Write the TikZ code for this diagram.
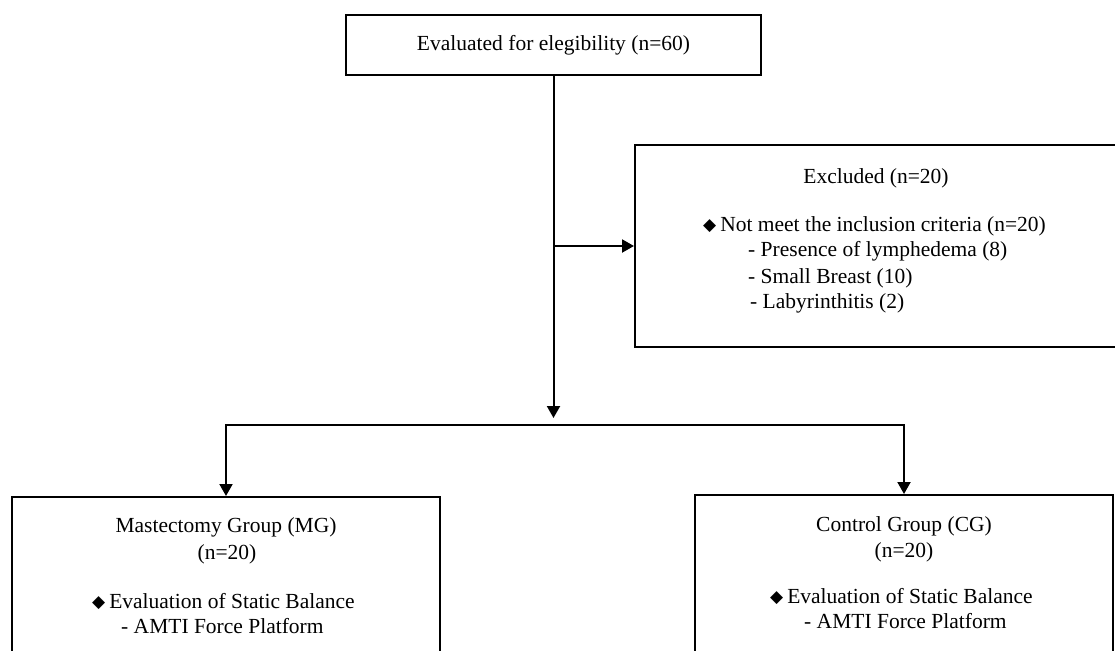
\documentclass[tikz,border=0pt]{standalone}
\usepackage{fontspec}
\setmainfont{Liberation Serif}
\newfontfamily\dejavu{DejaVu Sans}
\usetikzlibrary{arrows.meta}
\newcommand{\bul}{\raisebox{0.5pt}{\dejavu\fontsize{17}{17}\selectfont ◆}\hspace{4pt}}
\begin{document}
\begin{tikzpicture}[x=1pt,y=-1pt,
  box/.style={draw, line width=2pt, inner sep=0pt},
  txt/.style={font=\fontsize{21.5}{26}\selectfont, inner sep=0pt},
  arr/.style={line width=2pt, -{Triangle[length=12pt,width=13pt]}}]
\useasboundingbox (0,0) rectangle (1115,650);
\clip (0,0) rectangle (1115,650);
% boxes
\node[box, minimum width=415pt, minimum height=60pt] (eval) at (553.5,45) {};
\node[box, minimum width=482pt, minimum height=202pt] (excl) at (876,246) {};
\node[box, minimum width=428pt, minimum height=300pt, anchor=north] (mg) at (226,496) {};
\node[box, minimum width=418pt, minimum height=300pt, anchor=north] (cg) at (904,494) {};
% top text
\node[txt, anchor=mid] (evT) at (553.5,48) {Evaluated for elegibility (n=60)};
% excluded texts
\node[txt, anchor=mid] (exT) at (876,181) {Excluded (n=20)};
\node[txt, anchor=mid west] (exB) at (703,229) {\bul Not meet the inclusion criteria (n=20)};
\node[txt, anchor=mid west] (ex1) at (748,254) {- Presence of lymphedema (8)};
\node[txt, anchor=mid west] (ex2) at (748,281) {- Small Breast (10)};
\node[txt, anchor=mid west] (ex3) at (750,306) {- Labyrinthitis (2)};
% MG texts
\node[txt, anchor=mid] (mgT) at (226,530) {Mastectomy Group (MG)};
\node[txt, anchor=mid] (mgN) at (227,557) {(n=20)};
\node[txt, anchor=mid west] (mgB) at (92,606) {\bul Evaluation of Static Balance};
\node[txt, anchor=mid west] (mgA) at (121,631) {- AMTI Force Platform};
% CG texts
\node[txt, anchor=mid] (cgT) at (904,529) {Control Group (CG)};
\node[txt, anchor=mid] (cgN) at (904,555) {(n=20)};
\node[txt, anchor=mid west] (cgB) at (770,601) {\bul Evaluation of Static Balance};
\node[txt, anchor=mid west] (cgA) at (804,626) {- AMTI Force Platform};
% connectors
\coordinate (tip) at (554,418);
\coordinate (hb) at (554,425);
\draw[arr] (eval.south) -- (eval.south |- tip);
\draw[arr] (eval.south |- excl.west) -- (excl.west);
\draw[arr, line join=miter] (hb) -| (mg.north);
\draw[arr, line join=miter] (hb) -| (cg.north);
\end{tikzpicture}
\end{document}
